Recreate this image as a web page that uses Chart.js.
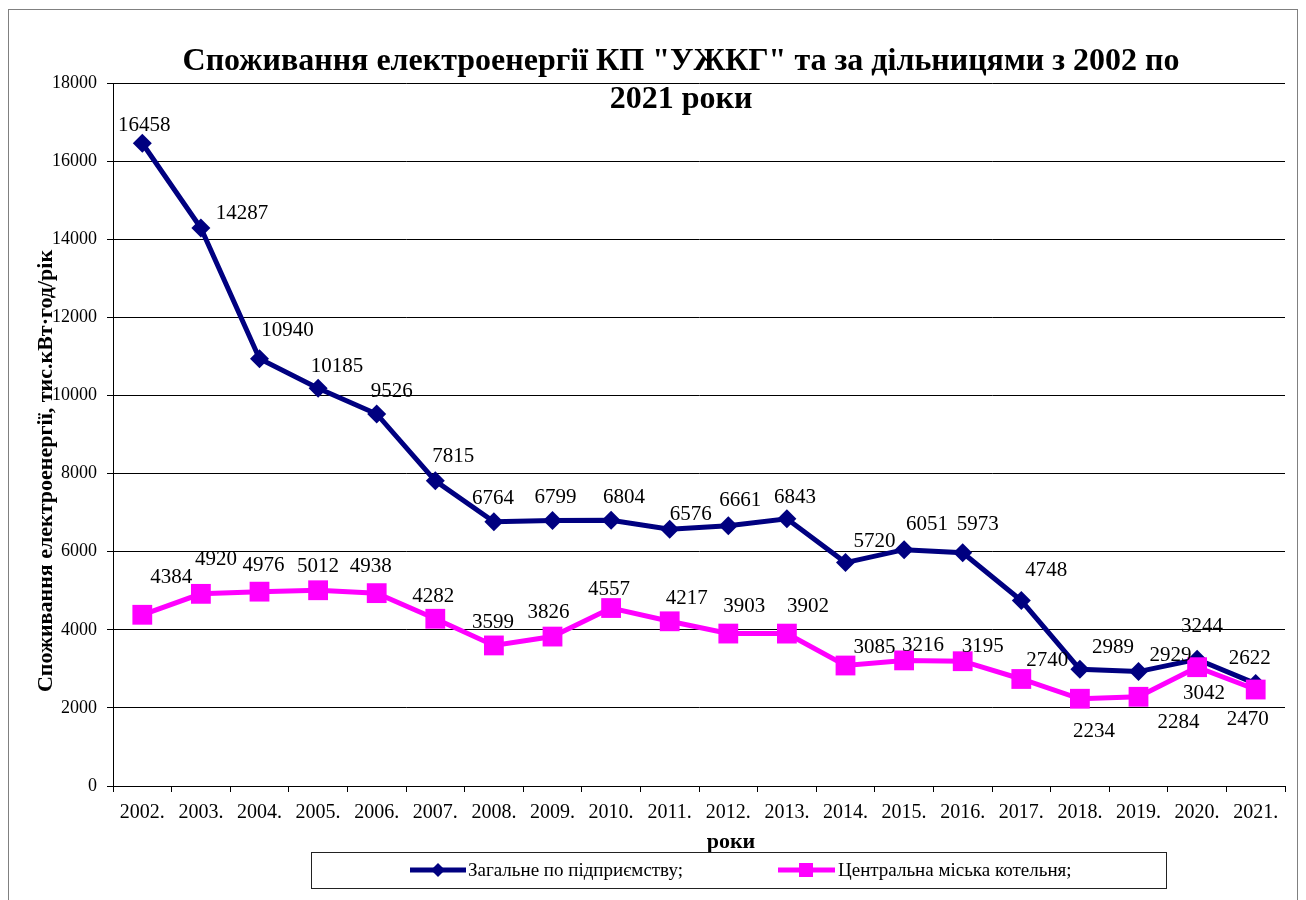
<!DOCTYPE html>
<html>
<head>
<meta charset="utf-8">
<script src="https://cdn.jsdelivr.net/npm/chart.js@4/dist/chart.umd.min.js"></script>
<style>
  body { margin: 0; background: #fff; }
  canvas { display: block; }
</style>
</head>
<body>
<canvas id="chart" width="1306" height="900"></canvas>
<script>
// data
let years = ['2002.', '2003.', '2004.', '2005.', '2006.', '2007.', '2008.', '2009.', '2010.', '2011.',
             '2012.', '2013.', '2014.', '2015.', '2016.', '2017.', '2018.', '2019.', '2020.', '2021.'];
let totalUse = [16458, 14287, 10940, 10185, 9526, 7815, 6764, 6799, 6804, 6576,
                6661, 6843, 5720, 6051, 5973, 4748, 2989, 2929, 3244, 2622];
let boilerUse = [4384, 4920, 4976, 5012, 4938, 4282, 3599, 3826, 4557, 4217,
                 3903, 3902, 3085, 3216, 3195, 2740, 2234, 2284, 3042, 2470];
let seriesNames = ['Загальне по підприємству;', 'Центральна міська котельня;'];
let titleLines = ['Споживання електроенергії КП "УЖКГ" та за дільницями з 2002 по', '2021 роки'];
let yTitle = 'Споживання електроенергії, тис.кВт·год/рік';
let xTitle = 'роки';

// where each value label sits relative to its point (dx, dy)
let totalLabelPos = [[2,-18],[41,-15],[28,-28],[19,-22],[15,-22],[18,-24],[-1,-23],[3,-23],[13,-23],[21,-15],
                     [12,-25],[8,-21],[29,-21],[23,-25],[15,-28],[25,-30],[33,-22],[32,-16],[5,-33],[-6,-25]];
let boilerLabelPos = [[29,-37],[15,-34],[4,-26],[0,-24],[-6,-27],[-2,-22],[-1,-23],[-4,-24],[-2,-19],[17,-23],
                      [16,-27],[21,-27],[29,-18],[19,-15],[20,-15],[26,-19],[14,33],[40,26],[7,26],[-8,30]];

const NAVY = '#000080';
const PINK = '#FF00FF';
const SERIF = '"Liberation Serif", "Times New Roman", serif';

// labels, titles, legend, frame
const decor = {
    id: 'decor',
    afterDatasetsDraw(chart){
        const c = chart.ctx;
        c.save();
        c.fillStyle = '#000';
        c.font = '21px ' + SERIF;
        c.textAlign = 'center';
        c.textBaseline = 'middle';
        const pos = [totalLabelPos, boilerLabelPos];
        chart.data.datasets.forEach((ds, di) => {
            chart.getDatasetMeta(di).data.forEach((pt, i) => {
                c.fillText(String(ds.data[i]), pt.x + pos[di][i][0], pt.y + pos[di][i][1]);
            });
        });
        c.restore();
    },
    afterDraw(chart){
        const c = chart.ctx;
        c.save();
        // outer frame
        c.strokeStyle = '#808080';
        c.lineWidth = 1;
        c.strokeRect(8.5, 9.5, 1289, 900);

        // title
        c.fillStyle = '#000';
        c.textAlign = 'center';
        c.textBaseline = 'alphabetic';
        c.font = 'bold 32px ' + SERIF;
        c.fillText(titleLines[0], 681, 70);
        c.fillText(titleLines[1], 681, 108);

        // axis titles
        c.font = 'bold 22px ' + SERIF;
        c.save();
        c.translate(52, 471);
        c.rotate(-Math.PI / 2);
        c.fillText(yTitle, 0, 0);
        c.restore();
        c.textBaseline = 'middle';
        c.fillText(xTitle, 731, 842);

        // legend
        c.strokeStyle = '#222';
        c.strokeRect(311.5, 852.5, 855, 36);
        c.lineWidth = 5;
        c.strokeStyle = NAVY;
        c.beginPath(); c.moveTo(410, 870); c.lineTo(466, 870); c.stroke();
        c.fillStyle = NAVY;
        c.beginPath(); c.moveTo(438, 863); c.lineTo(445, 870); c.lineTo(438, 877); c.lineTo(431, 870); c.closePath(); c.fill();
        c.strokeStyle = PINK;
        c.beginPath(); c.moveTo(778, 870); c.lineTo(835, 870); c.stroke();
        c.fillStyle = PINK;
        c.fillRect(799, 863, 14, 14);
        c.fillStyle = '#000';
        c.textAlign = 'left';
        c.font = '19px ' + SERIF;
        c.fillText(seriesNames[0], 468, 871);
        c.fillText(seriesNames[1], 838, 871);
        c.restore();
    }
};

var ctx = document.getElementById('chart');
var chart = new Chart(ctx, {
    type: 'line',
    data: {
        labels: years,
        datasets: [{
            label: seriesNames[0],
            data: totalUse,
            borderColor: NAVY,
            backgroundColor: NAVY,
            borderWidth: 5,
            pointStyle: 'rectRot',
            pointRadius: 9.5,
            pointBorderWidth: 0,
            tension: 0,
            order: 2
        }, {
            label: seriesNames[1],
            data: boilerUse,
            borderColor: PINK,
            backgroundColor: PINK,
            borderWidth: 5,
            pointStyle: 'rect',
            pointRadius: 14,
            pointBorderWidth: 0,
            tension: 0,
            order: 1
        }]
    },
    options: {
        responsive: false,
        animation: false,
        layout: { padding: { top: 83, right: 21, left: 0, bottom: 0 } },
        plugins: {
            legend: { display: false },
            title: { display: false },
            tooltip: { enabled: false }
        },
        scales: {
            x: {
                offset: true,
                grid: { offset: true, drawOnChartArea: false, color: '#000', tickLength: 6 },
                border: { color: '#000', width: 1 },
                ticks: { color: '#000', font: { family: SERIF, size: 20 }, padding: 9, maxRotation: 0, autoSkip: false },
                afterFit: s => { s.height = 114; }
            },
            y: {
                min: 0,
                max: 18000,
                grid: { color: '#000', tickLength: 6 },
                border: { color: '#000', width: 1 },
                ticks: {
                    stepSize: 2000, color: '#000', font: { family: SERIF, size: 18 }, padding: 10,
                    callback: v => String(v)
                },
                afterFit: s => { s.width = 113; }
            }
        }
    },
    plugins: [decor]
});
</script>
</body>
</html>
